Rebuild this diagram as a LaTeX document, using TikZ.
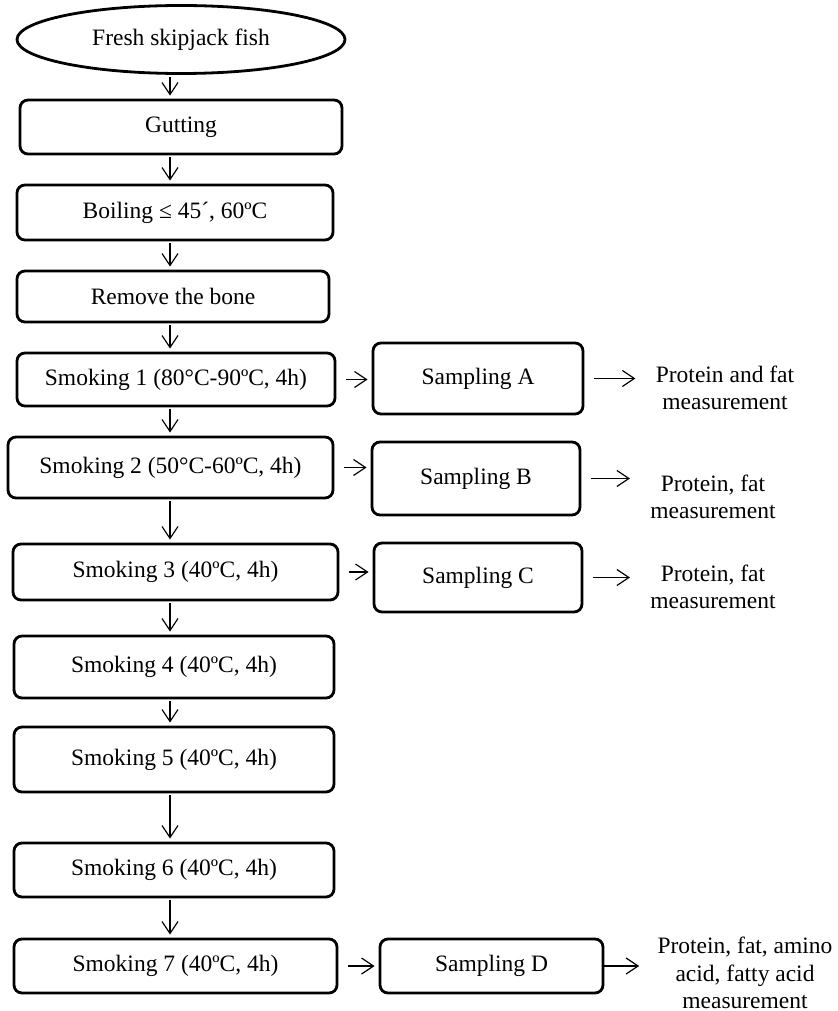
\documentclass[tikz,border=0pt]{standalone}
\usepackage{fontspec}
\setmainfont{Liberation Serif}
\usetikzlibrary{arrows.meta}
\usetikzlibrary{shapes.geometric}
\tikzset{>={Straight Barb[length=6pt,width=8pt]}}

\begin{document}
\begin{tikzpicture}[x=.5pt, y=-.5pt, font=\fontsize{11.75}{13.75}\selectfont,
    stepbox/.style={draw, line width=1.4pt, rounded corners=4pt, inner sep=0pt},
    flow/.style={->, line width=.6pt},
    result/.style={align=center, inner sep=0pt}]
  \useasboundingbox (0,0) rectangle (838,1011);
  \coordinate (axis) at (170,0);
  % processing steps
  \node[draw, ellipse, line width=1.4pt, inner sep=0pt, minimum width=164pt, minimum height=34pt] (fish) at (181,39.5) {Fresh skipjack fish};
  \node[stepbox, minimum width=161pt, minimum height=27pt] (gut) at (181,127) {Gutting};
  \node[stepbox, minimum width=158pt, minimum height=27.5pt] (boil) at (175,212.5) {Boiling ≤ 45´, 60ºC};
  \node[stepbox, minimum width=156pt, minimum height=25.5pt] (bone) at (173,296.5) {Remove the bone};
  \node[stepbox, minimum width=159pt, minimum height=26.5pt] (smoke1) at (176,379.5) {Smoking 1 (80°C-90ºC, 4h)};
  \node[stepbox, minimum width=162.5pt, minimum height=30.5pt] (smoke2) at (170.5,467.5) {Smoking 2 (50°C-60ºC, 4h)};
  \node[stepbox, minimum width=162.5pt, minimum height=28pt] (smoke3) at (175.5,572) {Smoking 3 (40ºC, 4h)};
  \node[stepbox, minimum width=160pt, minimum height=31pt] (smoke4) at (174,667) {Smoking 4 (40ºC, 4h)};
  \node[stepbox, minimum width=160pt, minimum height=32.5pt] (smoke5) at (174,759.5) {Smoking 5 (40ºC, 4h)};
  \node[stepbox, minimum width=160pt, minimum height=27pt] (smoke6) at (174,870) {Smoking 6 (40ºC, 4h)};
  \node[stepbox, minimum width=161.5pt, minimum height=27pt] (smoke7) at (175.5,966) {Smoking 7 (40ºC, 4h)};
  % sampling
  \node[stepbox, minimum width=105pt, minimum height=35.5pt] (sampA) at (478,378.5) {Sampling A};
  \node[stepbox, minimum width=104pt, minimum height=36.5pt] (sampB) at (476,478.5) {Sampling B};
  \node[stepbox, minimum width=104pt, minimum height=34.5pt] (sampC) at (478,577.5) {Sampling C};
  \node[stepbox, minimum width=111.5pt, minimum height=27pt] (sampD) at (491.5,966) {Sampling D};
  % measurements
  \node[result] (measA) at (725,388) {Protein and fat\\measurement};
  \node[result] (measB) at (713,497) {Protein, fat\\measurement};
  \node[result] (measC) at (713,587) {Protein, fat\\measurement};
  \node[result] (measD) at (745,973) {Protein, fat, amino\\acid, fatty acid\\measurement};
  % arrows down
  \foreach \a/\b in {fish/gut, gut/boil, boil/bone, bone/smoke1, smoke1/smoke2, smoke2/smoke3, smoke3/smoke4, smoke4/smoke5, smoke5/smoke6, smoke6/smoke7}
    \draw[flow, shorten <=1pt, shorten >=1.5pt] (\a.south -| axis) -- (\b.north -| axis);
  % arrows right
  \foreach \a/\b in {smoke1/sampA, smoke2/sampB, smoke3/sampC, smoke7/sampD}
    \draw[flow, shorten <=5pt, shorten >=2pt] (\a.east) -- (\a.east -| \b.west);
  \foreach \a/\b in {sampA/measA, sampB/measB, sampC/measC}
    \draw[flow, shorten <=5pt, shorten >=10pt] (\a.east) -- (\a.east -| \b.west);
  \draw[flow, shorten >=9pt] (sampD.east) -- (sampD.east -| measD.west);
\end{tikzpicture}
\end{document}
